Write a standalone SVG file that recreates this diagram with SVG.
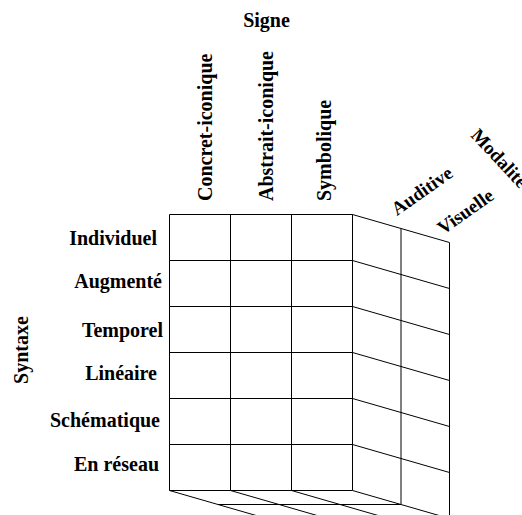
<svg xmlns="http://www.w3.org/2000/svg" width="522" height="515" viewBox="0 0 522 515">
  <style>
    .edge { stroke: #000; stroke-width: 1; fill: none; }
    .lbl { font-family: "Liberation Serif", "Times New Roman", serif; font-weight: bold; font-size: 20px; fill: #000; }
    .diag { font-size: 19px; }
  </style>
  <rect x="0" y="0" width="522" height="515" fill="#fff"/>

  <!-- Axis titles -->
  <g id="axis-signe"><text class="lbl" x="266.5" y="27" text-anchor="middle">Signe</text></g>
  <g id="axis-syntaxe"><text class="lbl" transform="translate(28,350) rotate(-90)" text-anchor="middle">Syntaxe</text></g>
  <g id="axis-modalite"><text class="lbl diag" transform="translate(470,136) rotate(47)">Modalité</text></g>

  <!-- Sign columns -->
  <g id="col-concret"><text class="lbl" transform="translate(212,201) rotate(-90)">Concret-iconique</text></g>
  <g id="col-abstrait"><text class="lbl" transform="translate(273,201) rotate(-90)">Abstrait-iconique</text></g>
  <g id="col-symbolique"><text class="lbl" transform="translate(331,201) rotate(-90)">Symbolique</text></g>

  <!-- Modality depth slices -->
  <g id="depth-auditive"><text class="lbl diag" transform="translate(397,216) rotate(-35)">Auditive</text></g>
  <g id="depth-visuelle"><text class="lbl diag" transform="translate(443,235) rotate(-35)">Visuelle</text></g>

  <!-- Syntax rows -->
  <g id="row-individuel"><text class="lbl" x="157" y="245" text-anchor="end">Individuel</text></g>
  <g id="row-augmente"><text class="lbl" x="162" y="288" text-anchor="end">Augmenté</text></g>
  <g id="row-temporel"><text class="lbl" x="163" y="337" text-anchor="end">Temporel</text></g>
  <g id="row-lineaire"><text class="lbl" x="157" y="380" text-anchor="end">Linéaire</text></g>
  <g id="row-schematique"><text class="lbl" x="160" y="427" text-anchor="end">Schématique</text></g>
  <g id="row-reseau"><text class="lbl" x="159" y="471" text-anchor="end">En réseau</text></g>

  <!-- Cube edges -->
  <g id="connectors" class="edge">
    <!-- front face: verticals -->
    <path d="M169.5,214.5V490.5 M230.5,214.5V490.5 M291.5,214.5V490.5 M352.5,214.5V490.5"/>
    <!-- front face: horizontals -->
    <path d="M169.5,214.5H352.5 M169.5,260.5H352.5 M169.5,306.5H352.5 M169.5,352.5H352.5 M169.5,398.5H352.5 M169.5,444.5H352.5 M169.5,490.5H352.5"/>
    <!-- side face: receding row lines -->
    <path d="M352.5,214.5L449.5,242.5 M352.5,260.5L449.5,288.5 M352.5,306.5L449.5,334.5 M352.5,352.5L449.5,380.5 M352.5,398.5L449.5,426.5 M352.5,444.5L449.5,472.5 M352.5,490.5L449.5,518.5"/>
    <!-- side face: depth verticals -->
    <path d="M401,228.5V504.5 M449.5,242.5V518.5"/>
    <!-- bottom face -->
    <path d="M169.5,490.5L266.5,518.5 M230.5,490.5L327.5,518.5 M291.5,490.5L388.5,518.5 M218,504.5H401"/>
  </g>
</svg>
